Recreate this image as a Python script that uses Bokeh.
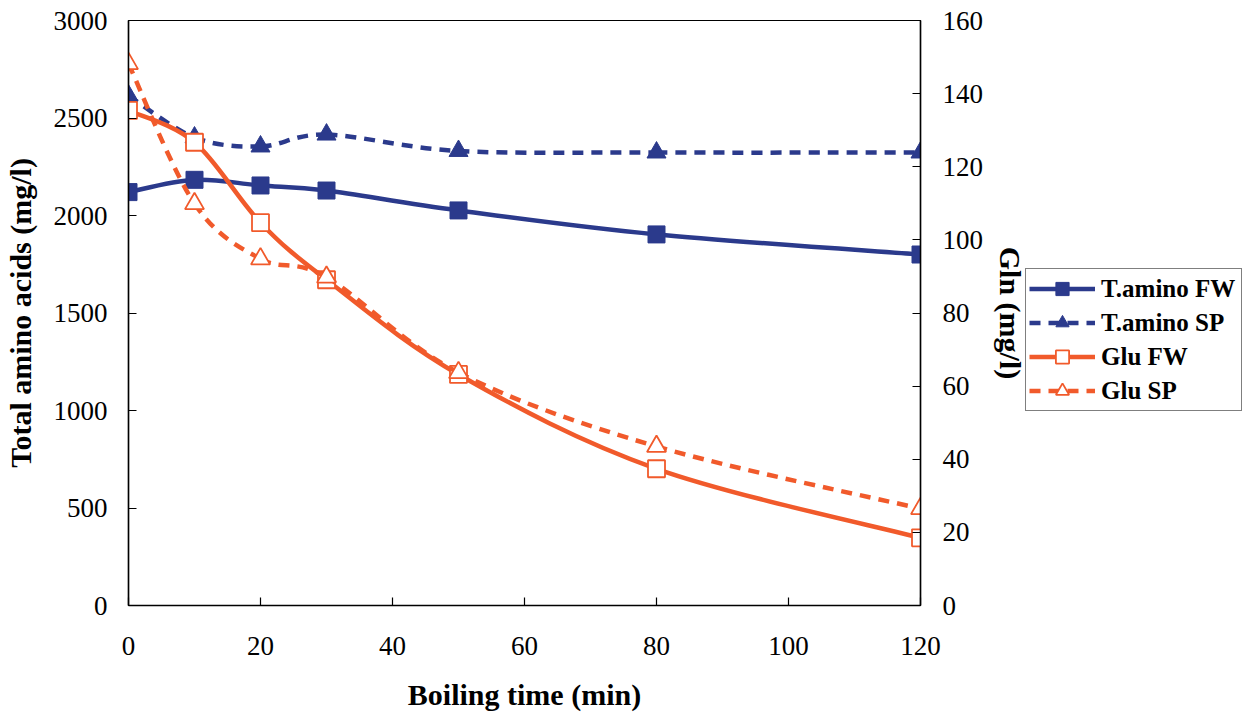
from bokeh.plotting import figure
from bokeh.models import Range1d, LinearAxis, Legend, LegendItem, FixedTicker, ColumnDataSource
from bokeh.embed import file_html
from bokeh.resources import INLINE

# ---- data ----
time_min = [0, 10, 20, 30, 50, 80, 120]
tamino_fw = [2120, 2183, 2154, 2128, 2026, 1903, 1800]
tamino_sp = [2615, 2400, 2354, 2415, 2331, 2323, 2323]
glu_fw = [135.4, 126.7, 104.7, 89.1, 63.2, 37.4, 18.5]
glu_sp = [148.2, 109.9, 94.8, 89.8, 63.7, 43.5, 26.5]

x_ticks = [0, 20, 40, 60, 80, 100, 120]
left_ticks = [0, 500, 1000, 1500, 2000, 2500, 3000]
right_ticks = [0, 20, 40, 60, 80, 100, 120, 140, 160]

series_names = ["T.amino FW", "T.amino SP", "Glu FW", "Glu SP"]

BLUE = "#2B3A8C"
ORANGE = "#F15A2B"
FONT = "Liberation Serif"


def smooth_source(xs, ys):
    """Bezier control points (Catmull-Rom style) through the data points."""
    n = len(xs)
    d = dict(x0=[], y0=[], x1=[], y1=[], cx0=[], cy0=[], cx1=[], cy1=[])
    for i in range(n - 1):
        a = i - 1 if i > 0 else i
        b = i + 2 if i + 2 < n else i + 1
        d["x0"].append(xs[i]); d["y0"].append(ys[i])
        d["x1"].append(xs[i + 1]); d["y1"].append(ys[i + 1])
        d["cx0"].append(xs[i] + (xs[i + 1] - xs[a]) / 6.0)
        d["cy0"].append(ys[i] + (ys[i + 1] - ys[a]) / 6.0)
        d["cx1"].append(xs[i + 1] - (xs[b] - xs[i]) / 6.0)
        d["cy1"].append(ys[i + 1] - (ys[b] - ys[i]) / 6.0)
    return ColumnDataSource(d)


p = figure(frame_width=792, frame_height=585,
           x_range=Range1d(0, 120), y_range=Range1d(0, 3000),
           output_backend="svg", toolbar_location=None,
           min_border_left=128, min_border_right=0,
           min_border_top=20, min_border_bottom=111)
p.extra_y_ranges = {"right": Range1d(0, 160)}

p.grid.visible = False
p.outline_line_color = "black"
p.outline_line_width = 1.2
p.background_fill_color = "white"
p.border_fill_color = "white"


def style_axis(ax, ticks):
    ax.ticker = FixedTicker(ticks=ticks)
    ax.major_tick_in = 8
    ax.major_tick_out = 0
    ax.minor_tick_line_color = None
    ax.axis_line_color = "black"
    ax.axis_line_width = 1.5
    ax.major_tick_line_width = 1.2
    ax.major_label_text_font = FONT
    ax.major_label_text_font_size = "27px"
    ax.major_label_text_color = "black"
    ax.axis_label_text_font = FONT
    ax.axis_label_text_font_size = "30px"
    ax.axis_label_text_font_style = "bold"
    ax.axis_label_text_color = "black"


xa = p.xaxis[0]
style_axis(xa, x_ticks)
xa.axis_label = "Boiling time (min)"
xa.major_label_standoff = 31
xa.axis_label_standoff = 20

ya = p.yaxis[0]
style_axis(ya, left_ticks)
ya.axis_label = "Total amino acids (mg/l)"
ya.major_label_standoff = 21
ya.axis_label_standoff = 14

ra = LinearAxis(y_range_name="right")
style_axis(ra, right_ticks)
ra.axis_label = "Gln (mg/l)"
ra.axis_label_orientation = "vertical"
ra.major_label_standoff = 22
ra.axis_label_standoff = 8
p.add_layout(ra, "right")

items = []

# T.amino FW
l1 = p.bezier(source=smooth_source(time_min, tamino_fw), x0="x0", y0="y0", x1="x1", y1="y1",
              cx0="cx0", cy0="cy0", cx1="cx1", cy1="cy1", line_color=BLUE, line_width=4.5)
m1 = p.scatter(time_min, tamino_fw, marker="square", size=17, fill_color=BLUE, line_color=BLUE)
items.append(LegendItem(label=series_names[0], renderers=[l1, m1]))

# T.amino SP
l2 = p.bezier(source=smooth_source(time_min, tamino_sp), x0="x0", y0="y0", x1="x1", y1="y1",
              cx0="cx0", cy0="cy0", cx1="cx1", cy1="cy1", line_color=BLUE, line_width=4.5,
              line_dash="11 8")
m2 = p.scatter(time_min, tamino_sp, marker="triangle", size=19, fill_color=BLUE, line_color=BLUE)
items.append(LegendItem(label=series_names[1], renderers=[l2, m2]))

# Glu FW
l3 = p.bezier(source=smooth_source(time_min, glu_fw), x0="x0", y0="y0", x1="x1", y1="y1",
              cx0="cx0", cy0="cy0", cx1="cx1", cy1="cy1", line_color=ORANGE, line_width=4.5,
              y_range_name="right")
m3 = p.scatter(time_min, glu_fw, marker="square", size=17, fill_color="white", line_color=ORANGE,
               line_width=1.8, y_range_name="right")
items.append(LegendItem(label=series_names[2], renderers=[l3, m3]))

# Glu SP
l4 = p.bezier(source=smooth_source(time_min, glu_sp), x0="x0", y0="y0", x1="x1", y1="y1",
              cx0="cx0", cy0="cy0", cx1="cx1", cy1="cy1", line_color=ORANGE, line_width=4.5,
              line_dash="11 8", y_range_name="right")
m4 = p.scatter(time_min, glu_sp, marker="triangle", size=19, fill_color="white", line_color=ORANGE,
               line_width=1.8, y_range_name="right")
items.append(LegendItem(label=series_names[3], renderers=[l4, m4]))

legend = Legend(items=items, location=(-222, 194))
legend.label_text_font = FONT
legend.label_text_font_size = "25px"
legend.label_text_font_style = "bold"
legend.label_text_color = "black"
legend.border_line_color = "black"
legend.border_line_width = 1
legend.background_fill_color = "white"
legend.background_fill_alpha = 1
legend.glyph_width = 66
legend.glyph_height = 33
legend.label_height = 33
legend.label_width = 137
legend.label_standoff = 6
legend.spacing = 1
legend.padding = 3
legend.margin = 0
p.add_layout(legend, "right")

open("out.html", "w").write(file_html(p, INLINE))
